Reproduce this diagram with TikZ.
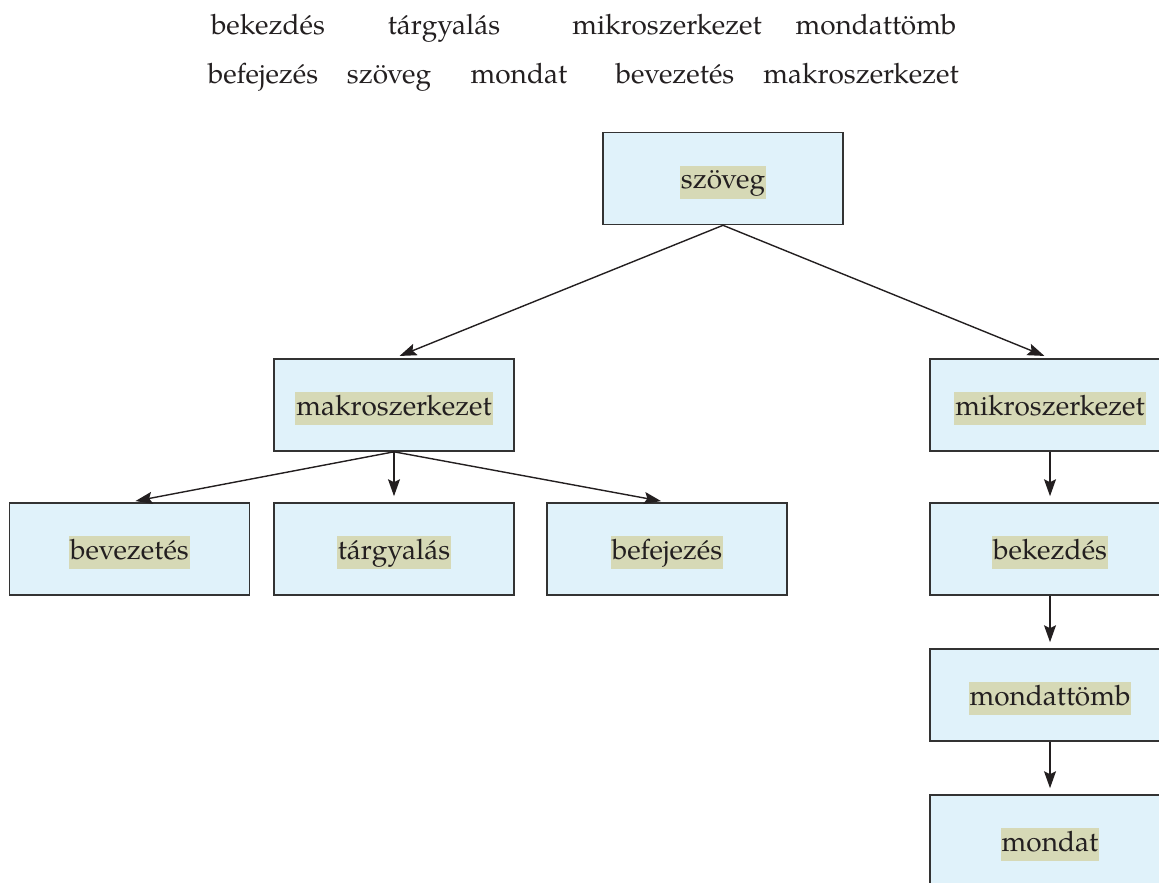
\documentclass[tikz,border=0pt]{standalone}
\usepackage{fontspec}
\setmainfont{TeX Gyre Pagella}
\usetikzlibrary{arrows.meta}
\definecolor{boxblue}{HTML}{E0F2FA}
\definecolor{hlolive}{HTML}{D6D9B6}
\definecolor{ink}{HTML}{231F20}
\definecolor{edge}{HTML}{333333}
% highlighted label inside a box
\newcommand{\hl}[1]{\raisebox{-3.5pt}[\height][\depth]{\setlength{\fboxsep}{1pt}\colorbox{hlolive}{\rule[-9pt]{0pt}{31pt}#1}}}

\begin{document}
\begin{tikzpicture}[x=1pt, y=-1pt, font=\fontsize{28}{34}\selectfont, text=ink,
  box/.style={draw=edge, line width=1.6pt, fill=boxblue, minimum width=240pt, minimum height=92pt, inner sep=0pt},
  word/.style={anchor=base, inner sep=0pt},
  arr/.style={draw=ink, line width=1.4pt, shorten >=6pt, -{Stealth[length=17pt, width=12pt, inset=3pt]}}]
\useasboundingbox (0,0) rectangle (1159,883);
\clip (0,0) rectangle (1159,883);

% word list
\node[word] (w-bekezdes) at (268,35) {bekezdés};
\node[word] (w-targyalas) at (444,35) {tárgyalás};
\node[word] (w-mikro) at (667,35) {mikroszerkezet};
\node[word] (w-mondattomb) at (876,35) {mondattömb};
\node[word] (w-befejezes) at (263,83) {befejezés};
\node[word] (w-szoveg) at (389,83) {szöveg};
\node[word] (w-mondat) at (519,83) {mondat};
\node[word] (w-bevezetes) at (675,83) {bevezetés};
\node[word] (w-makro) at (861,83) {makroszerkezet};

% tree
\node[box] (szoveg) at (723,178.5) {\hl{szöveg}};
\node[box] (makro) at (394,405) {\hl{makroszerkezet}};
\node[box] (mikro) at (1050,405) {\hl{mikroszerkezet}};
\node[box] (bevezetes) at (129.5,549) {\hl{bevezetés}};
\node[box] (targyalas) at (394,549) {\hl{tárgyalás}};
\node[box] (befejezes) at (667,549) {\hl{befejezés}};
\node[box] (bekezdes) at (1050,549) {\hl{bekezdés}};
\node[box] (mondattomb) at (1050,695) {\hl{mondattömb}};
\node[box] (mondat) at (1050,841) {\hl{mondat}};

\draw[arr] (szoveg.south) -- (makro.north);
\draw[arr] (szoveg.south) -- (mikro.north);
\draw[arr] (makro.south) -- (bevezetes.north);
\draw[arr] (makro.south) -- (targyalas.north);
\draw[arr] (makro.south) -- (befejezes.north);
\draw[arr] (mikro) -- (bekezdes);
\draw[arr] (bekezdes) -- (mondattomb);
\draw[arr] (mondattomb) -- (mondat);
\end{tikzpicture}
\end{document}
